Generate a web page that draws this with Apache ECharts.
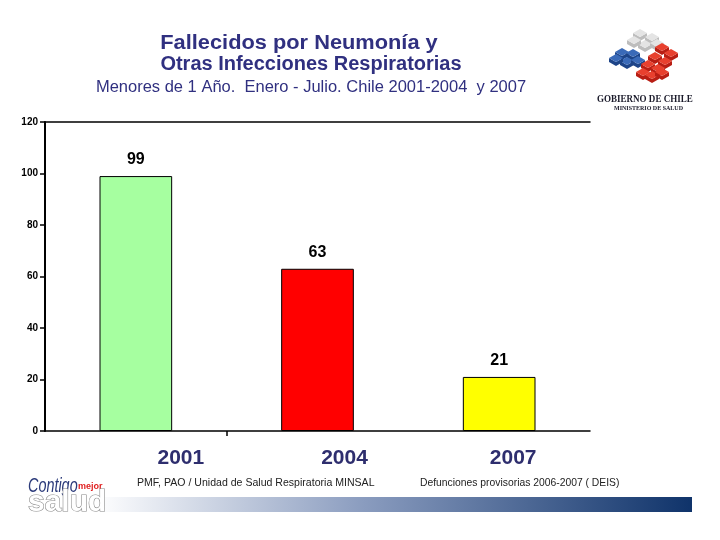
<!DOCTYPE html>
<html>
<head>
<meta charset="utf-8">
<script src="https://cdn.jsdelivr.net/npm/echarts@6/dist/echarts.min.js"></script>
<style>
html, body { margin: 0; padding: 0; background: #fff; }
#chart { width: 720px; height: 540px; }
</style>
</head>
<body>
<div id="chart"></div>
<script>
var years = ['2001', '2004', '2007'];
var deaths = [99, 63, 21];
var barColors = ['#a6ffa0', '#ff0000', '#ffff00'];
var yTicks = [0, 20, 40, 60, 80, 100, 120];

var chart = echarts.init(document.getElementById('chart'));

var sans = '"Liberation Sans", Arial, sans-serif';
var serif = '"Liberation Serif", "DejaVu Serif", serif';

// logo blocks (decoration only)
var grey = [[640, 33], [652, 37], [645, 44], [657, 43], [634, 40]];
var blue = [[622, 52], [633, 53], [627, 61], [616, 58], [638, 60]];
var red = [[662, 47], [671, 53], [655, 56], [665, 61], [648, 64], [658, 68], [643, 72], [652, 75], [662, 72]];
function blocks(list, fill, side) {
    var out = [];
    list.forEach(function (p) {
        out.push({
            type: 'polygon',
            shape: { points: [[p[0] - 7, p[1]], [p[0], p[1] + 4], [p[0], p[1] + 8], [p[0] - 7, p[1] + 4]] },
            style: { fill: side }
        });
        out.push({
            type: 'polygon',
            shape: { points: [[p[0] + 7, p[1]], [p[0], p[1] + 4], [p[0], p[1] + 8], [p[0] + 7, p[1] + 4]] },
            style: { fill: side }
        });
        out.push({
            type: 'polygon',
            shape: { points: [[p[0], p[1] - 4], [p[0] + 7, p[1]], [p[0], p[1] + 4], [p[0] - 7, p[1]]] },
            style: { fill: fill }
        });
    });
    return out;
}

// horizontally scaled text
function narrow(str, x, y, font, fill, sx, extra) {
    var st = { text: str, x: 0, y: 0, font: font, fill: fill };
    if (extra) { for (var k in extra) st[k] = extra[k]; }
    return { type: 'text', x: x, y: y, scaleX: sx, style: st };
}

var graphics = [
    narrow('Fallecidos por Neumonía y', 299, 33, 'bold 20px ' + sans, '#303080', 1.09, { align: 'center' }),
    narrow('Otras Infecciones Respiratorias', 311, 54, 'bold 20px ' + sans, '#303080', 1.0, { align: 'center' }),
    narrow('Menores de 1 Año.  Enero - Julio. Chile 2001-2004  y 2007', 311, 79, '16.5px ' + sans, '#303080', 1.0, { align: 'center' }),
    narrow('PMF, PAO / Unidad de Salud Respiratoria MINSAL', 137, 477, '11px ' + sans, '#222', 0.96),
    narrow('Defunciones provisorias 2006-2007 ( DEIS)', 420, 477, '11px ' + sans, '#222', 0.94),
    { type: 'rect', shape: { x: 95, y: 497, width: 597, height: 15 },
      style: { fill: new echarts.graphic.LinearGradient(0, 0, 1, 0, [
          { offset: 0, color: '#ffffff' }, { offset: 0.45, color: '#8a9cbf' }, { offset: 1, color: '#0f336a' }]) } },
    narrow('Contigo', 28, 476, 'italic 20px ' + sans, '#2b3a7a', 0.72),
    { type: 'text',
      style: { text: 'mejor', x: 78, y: 482,
               font: 'bold 9px ' + sans, fill: '#e02020' } },
    { type: 'text',
      style: { text: 'salud', x: 28, y: 488,
               font: 'bold 30px ' + sans,
               fill: '#ffffff', stroke: '#8a8a8a', lineWidth: 1.2 } },
    narrow('GOBIERNO DE CHILE', 597, 94, 'bold 11px ' + serif, '#1a1a2a', 0.82),
    narrow('MINISTERIO DE SALUD', 614, 105, 'bold 6px ' + serif, '#1a1a2a', 1.0)
];
graphics = graphics.concat(blocks(grey, '#e4e4e4', '#bdbdbd'))
    .concat(blocks(blue, '#3a6ab8', '#1d4488'))
    .concat(blocks(red, '#e8402e', '#b81e14'));

var labelShift = [90, 54, 28];

var option = {
    animation: false,
    grid: { left: 45, right: 130, top: 122, bottom: 109 },
    graphic: graphics,
    xAxis: [{
        type: 'category',
        data: years,
        axisLine: { lineStyle: { color: '#000', width: 1.5 } },
        axisTick: { show: false },
        axisLabel: {
            margin: 17,
            interval: 0,
            formatter: function (v, i) { return '{y' + i + '|' + v + '}'; },
            rich: {
                y0: { padding: [0, 0, 0, labelShift[0]] },
                y1: { padding: [0, 0, 0, labelShift[1]] },
                y2: { padding: [0, 0, 0, labelShift[2]] }
            },
            fontSize: 21, fontWeight: 'bold', color: '#2e2e6e',
            fontFamily: sans
        }
    }, {
        type: 'category',
        position: 'top',
        data: years,
        axisLine: { lineStyle: { color: '#000', width: 1.5 } },
        axisTick: { show: false },
        axisLabel: { show: false }
    }, {
        // helper axis: single tick between first and second category
        type: 'value',
        position: 'bottom',
        min: 0,
        max: years.length,
        axisLine: { show: false },
        axisTick: { show: true, length: 5, customValues: [1], lineStyle: { color: '#000', width: 1.5 } },
        axisLabel: { show: false },
        splitLine: { show: false }
    }],
    yAxis: {
        type: 'value',
        min: yTicks[0],
        max: yTicks[yTicks.length - 1],
        interval: 20,
        splitLine: { show: false },
        axisLine: { show: true, lineStyle: { color: '#000', width: 2 } },
        axisTick: { show: true, length: 5, lineStyle: { color: '#000', width: 1.5 } },
        axisLabel: {
            margin: 7,
            fontSize: 10, fontWeight: 'bold', color: '#000',
            fontFamily: sans
        }
    },
    series: [{
        type: 'bar',
        xAxisIndex: 0,
        barWidth: '40%',
        data: deaths.map(function (v, i) {
            return { value: v, itemStyle: { color: barColors[i] } };
        }),
        itemStyle: { borderColor: '#000', borderWidth: 1 },
        label: {
            show: true, position: 'top', distance: 8,
            fontSize: 16, fontWeight: 'bold', color: '#000',
            fontFamily: sans
        }
    }]
};
chart.setOption(option);
</script>
</body>
</html>
